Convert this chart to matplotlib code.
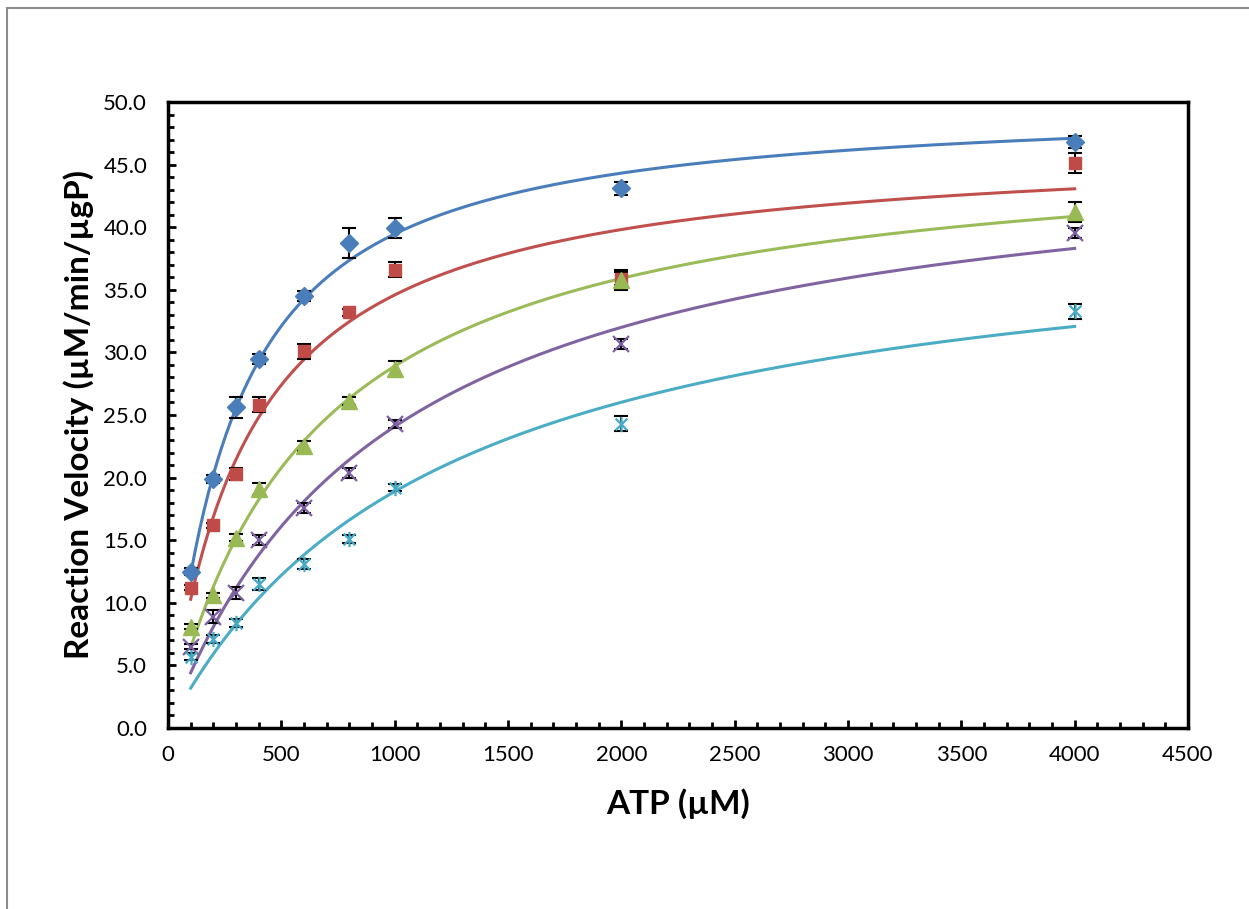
import numpy as np
import matplotlib
matplotlib.use("Agg")
import matplotlib.pyplot as plt
from matplotlib.path import Path
from matplotlib.patches import Rectangle

plt.rcParams['font.family'] = ['Lato', 'DejaVu Sans']

atp = [100, 200, 300, 400, 600, 800, 1000, 2000, 4000]

series_names = ["S1", "S2", "S3", "S4", "S5"]
v_blue = [12.5, 19.9, 25.6, 29.5, 34.5, 38.7, 39.9, 43.1, 46.8]
v_red = [11.2, 16.2, 20.3, 25.8, 30.1, 33.2, 36.6, 35.9, 45.1]
v_green = [8.1, 10.6, 15.2, 19.1, 22.5, 26.1, 28.7, 35.8, 41.2]
v_purple = [6.5, 8.9, 10.8, 15.0, 17.6, 20.4, 24.3, 30.7, 39.5]
v_cyan = [5.7, 7.1, 8.4, 11.5, 13.1, 15.1, 19.2, 24.3, 33.3]

e_blue = [0.3, 0.3, 0.8, 0.4, 0.4, 1.2, 0.8, 0.5, 0.5]
e_red = [0.2, 0.2, 0.5, 0.6, 0.6, 0.3, 0.6, 0.5, 0.8]
e_green = [0.2, 0.2, 0.3, 0.5, 0.4, 0.3, 0.6, 0.8, 0.8]
e_purple = [0.2, 0.5, 0.5, 0.4, 0.4, 0.4, 0.3, 0.4, 0.4]
e_cyan = [0.3, 0.3, 0.3, 0.5, 0.4, 0.3, 0.3, 0.6, 0.6]

# Fitted kinetic curves (Vmax, Km, Hill n)
fit_vmax = [50.0, 46.9, 47.4, 47.7, 41.8]
fit_km = [288, 356, 640, 981, 1213]
fit_n = [1.06, 1.0, 1.0, 1.0, 1.0]
fit_range = [100, 4000]

xticks = [0, 500, 1000, 1500, 2000, 2500, 3000, 3500, 4000, 4500]
yticks = [0.0, 5.0, 10.0, 15.0, 20.0, 25.0, 30.0, 35.0, 40.0, 45.0, 50.0]

line_colors = ["#4A7EBB", "#C0504D", "#9BBB59", "#8064A2", "#4BACC6"]
marker_colors = ["#4A7EBB", "#BE4B48", "#98B954", "#7D60A0", "#46AAC5"]

star = Path([(-1, -1), (1, 1), (-1, 1), (1, -1), (0, -1.3), (0, 1.3)],
            [Path.MOVETO, Path.LINETO, Path.MOVETO, Path.LINETO, Path.MOVETO, Path.LINETO])

fig = plt.figure(figsize=(12.49, 9.09), dpi=100)
fig.patches.append(Rectangle((7 / 1249, -0.1), 1.2, 1 - 7.5 / 909 + 0.1,
                             transform=fig.transFigure, fill=False,
                             edgecolor="#8c8c8c", linewidth=1.5))
ax = fig.add_axes([168 / 1249, 1 - 728 / 909, (1188 - 168) / 1249, (728 - 102) / 909])

values = [v_blue, v_red, v_green, v_purple, v_cyan]
errs = [e_blue, e_red, e_green, e_purple, e_cyan]
markers = ["D", "s", "^", "x", star]
msizes = [9, 8, 11, 11, 11]

for i in range(5):
    s = np.linspace(fit_range[0], fit_range[1], 400)
    v = fit_vmax[i] * s ** fit_n[i] / (fit_km[i] ** fit_n[i] + s ** fit_n[i])
    ax.plot(s, v, color=line_colors[i], lw=2.2, zorder=2)

for i in range(5):
    ax.errorbar(atp, values[i], yerr=errs[i], fmt="none", ecolor="black",
                elinewidth=1.5, capsize=5, capthick=1.5, zorder=3)
    mk = markers[i]
    if mk in ("x",) or mk is star:
        ax.plot(atp, values[i], linestyle="none", marker=mk, markersize=msizes[i],
                markeredgecolor=marker_colors[i], markeredgewidth=1.6, zorder=4)
    else:
        ax.plot(atp, values[i], linestyle="none", marker=mk, markersize=msizes[i],
                markerfacecolor=marker_colors[i], markeredgecolor=marker_colors[i],
                zorder=4)

ax.set_xlim(0, 4500)
ax.set_ylim(0, 50)
ax.set_xticks(xticks)
ax.set_xticklabels([str(t) for t in xticks])
ax.set_yticks(yticks)
ax.set_yticklabels([f"{t:.1f}" for t in yticks])
ax.set_xticks(np.arange(0, 4501, 100), minor=True)
ax.set_yticks(np.arange(0, 50.1, 1), minor=True)
ax.tick_params(which="major", direction="in", length=6, width=2, labelsize=16,
               colors="black")
ax.tick_params(axis="x", which="major", pad=12)
ax.tick_params(axis="y", which="major", pad=15)
ax.tick_params(which="minor", direction="in", length=4, width=2)
for sp in ax.spines.values():
    sp.set_linewidth(2.5)

ax.set_xlabel("ATP (µM)", fontsize=24, fontweight="bold", labelpad=17)
ax.set_ylabel("Reaction Velocity (µM/min/µgP)", fontsize=24, fontweight="bold", labelpad=7)

fig.savefig("out.png", dpi=100)
